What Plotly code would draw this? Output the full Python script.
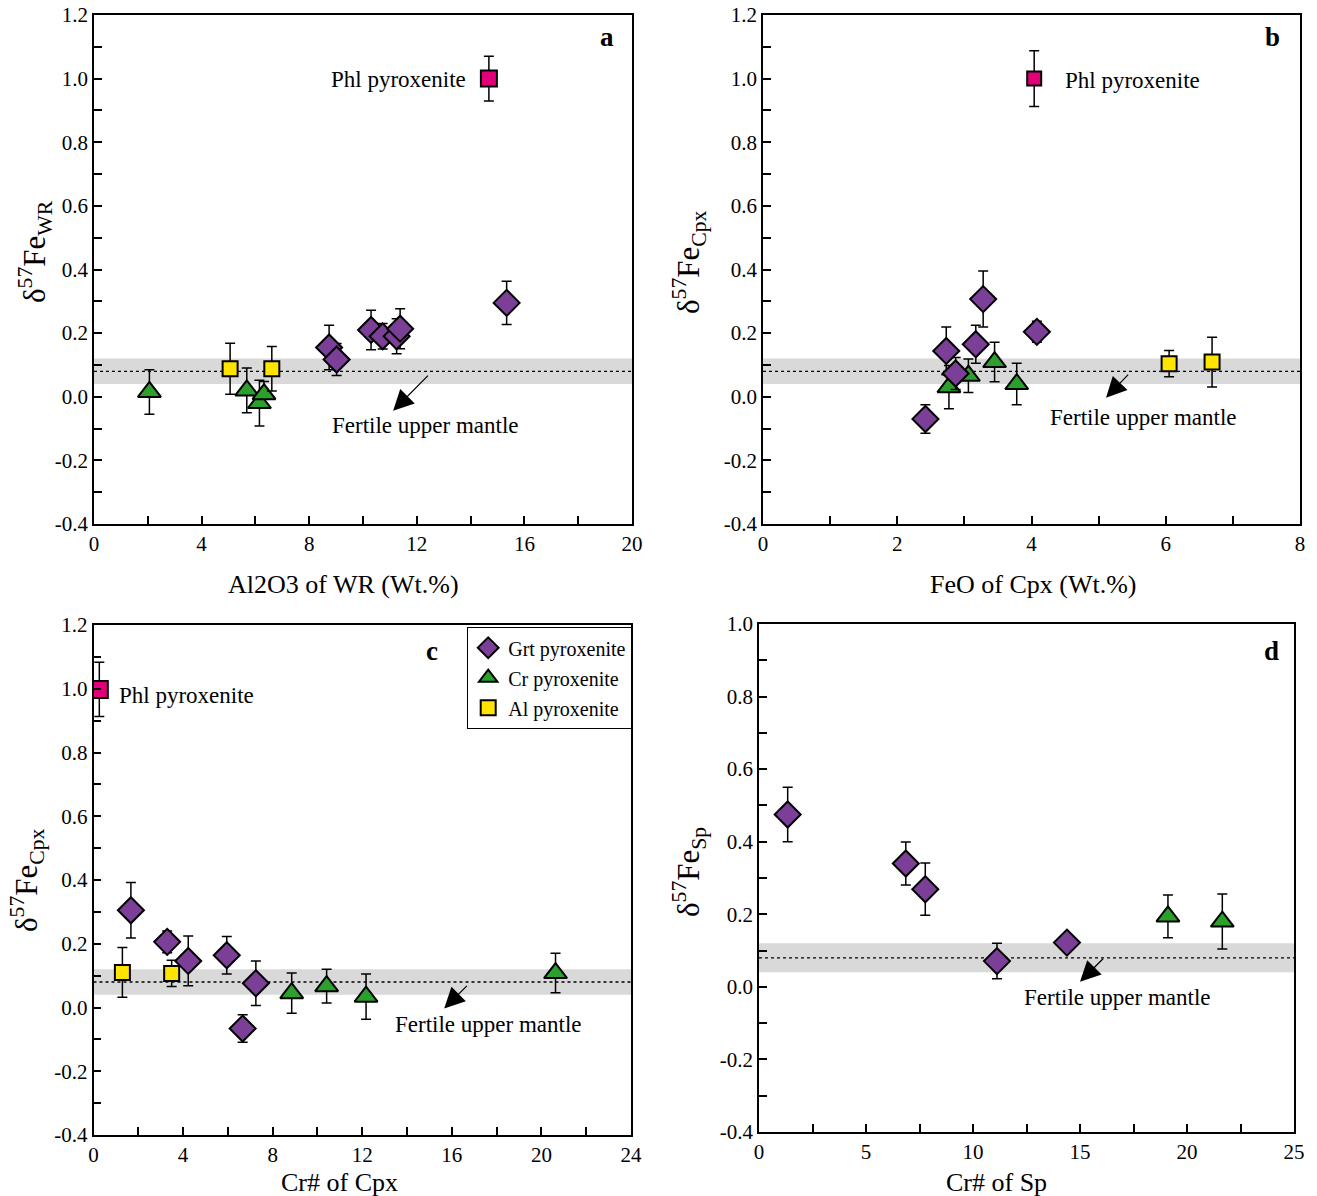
import plotly.graph_objects as go

# ---------------- data ----------------
# Panel a: Al2O3 of WR vs d57Fe WR
a_grt_x = [8.74, 9.02, 10.30, 10.73, 11.25, 11.38, 15.34]
a_grt_y = [0.155, 0.117, 0.210, 0.190, 0.190, 0.214, 0.295]
a_grt_e = [0.070, 0.050, 0.062, 0.040, 0.055, 0.063, 0.068]
a_cr_x = [2.06, 5.68, 6.15, 6.32]
a_cr_y = [0.015, 0.020, -0.020, 0.008]
a_cr_e = [0.070, 0.070, 0.072, 0.040]
a_al_x = [5.06, 6.61]
a_al_y = [0.088, 0.088]
a_al_e = [0.080, 0.070]
a_phl_x = [14.68]
a_phl_y = [1.00]
a_phl_e = [0.070]

# Panel b: FeO of Cpx vs d57Fe Cpx
b_grt_x = [2.42, 2.73, 2.87, 3.17, 3.28, 4.08]
b_grt_y = [-0.070, 0.144, 0.073, 0.165, 0.307, 0.204]
b_grt_e = [0.045, 0.075, 0.050, 0.060, 0.088, 0.033]
b_cr_x = [2.77, 3.06, 3.45, 3.78]
b_cr_y = [0.030, 0.066, 0.109, 0.040]
b_cr_e = [0.068, 0.053, 0.062, 0.065]
b_al_x = [6.05, 6.69]
b_al_y = [0.104, 0.109]
b_al_e = [0.041, 0.078]
b_phl_x = [4.04]
b_phl_y = [1.00]
b_phl_e = [0.088]

# Panel c: Cr# of Cpx vs d57Fe Cpx
c_grt_x = [1.67, 3.29, 4.23, 5.95, 7.25, 6.66]
c_grt_y = [0.305, 0.206, 0.146, 0.164, 0.076, -0.066]
c_grt_e = [0.087, 0.034, 0.078, 0.059, 0.070, 0.043]
c_cr_x = [8.85, 10.41, 12.17, 20.63]
c_cr_y = [0.045, 0.067, 0.034, 0.108]
c_cr_e = [0.063, 0.053, 0.071, 0.062]
c_al_x = [1.29, 3.49]
c_al_y = [0.110, 0.107]
c_al_e = [0.078, 0.041]
c_phl_x = [0.26]
c_phl_y = [0.998]
c_phl_e = [0.085]

# Panel d: Cr# of Sp vs d57Fe Sp
d_grt_x = [1.34, 6.86, 7.77, 11.12, 14.39]
d_grt_y = [0.475, 0.340, 0.269, 0.071, 0.122]
d_grt_e = [0.075, 0.059, 0.072, 0.049, 0.0]
d_cr_x = [19.11, 21.65]
d_cr_y = [0.194, 0.180]
d_cr_e = [0.059, 0.076]

# Fertile upper mantle reference
fum_low, fum_mid, fum_high = 0.04, 0.08, 0.12

# tick labels
y_ticks_1 = [-0.4, -0.2, 0.0, 0.2, 0.4, 0.6, 0.8, 1.0, 1.2]
y_ticks_1_text = ["-0.4", "-0.2", "0.0", "0.2", "0.4", "0.6", "0.8", "1.0", "1.2"]
y_ticks_d = [-0.4, -0.2, 0.0, 0.2, 0.4, 0.6, 0.8, 1.0]
y_ticks_d_text = ["-0.4", "-0.2", "0.0", "0.2", "0.4", "0.6", "0.8", "1.0"]
x_ticks_a = [0, 4, 8, 12, 16, 20]
x_ticks_b = [0, 2, 4, 6, 8]
x_ticks_c = [0, 4, 8, 12, 16, 20, 24]
x_ticks_d = [0, 5, 10, 15, 20, 25]

x_titles = ["Al2O3 of WR (Wt.%)", "FeO of Cpx (Wt.%)", "Cr# of Cpx", "Cr# of Sp"]
y_titles = ["δ<sup>57</sup>Fe<sub>WR</sub>", "δ<sup>57</sup>Fe<sub>Cpx</sub>",
            "δ<sup>57</sup>Fe<sub>Cpx</sub>", "δ<sup>57</sup>Fe<sub>Sp</sub>"]

# ---------------- styling ----------------
FONT = "Liberation Serif"
PURPLE = "#7B3F98"
GREEN = "#2BA02D"
YELLOW = "#FFE400"
MAGENTA = "#E2007A"
W, H = 1317, 1196

fig = go.Figure()


def add(xs, ys, es, xa, ya, symbol, color, size, name, showlegend=False, lw=2, group=None):
    fig.add_trace(go.Scatter(
        x=xs, y=ys, mode="markers", xaxis=xa, yaxis=ya, name=name,
        showlegend=showlegend, legendgroup=group,
        marker=dict(symbol=symbol, color=color, size=size,
                    line=dict(color="black", width=lw)),
        error_y=dict(type="data", array=es, visible=True, color="black",
                     thickness=1.5, width=5),
    ))


# panel a
add(a_cr_x, a_cr_y, a_cr_e, "x", "y", "triangle-up", GREEN, 20, "Cr")
add(a_al_x, a_al_y, a_al_e, "x", "y", "square", YELLOW, 15, "Al")
add(a_grt_x, a_grt_y, a_grt_e, "x", "y", "diamond", PURPLE, 20, "Grt")
add(a_phl_x, a_phl_y, a_phl_e, "x", "y", "square", MAGENTA, 16, "Phl")
# panel b
add(b_cr_x, b_cr_y, b_cr_e, "x2", "y2", "triangle-up", GREEN, 20, "Cr")
add(b_al_x, b_al_y, b_al_e, "x2", "y2", "square", YELLOW, 15, "Al")
add(b_grt_x, b_grt_y, b_grt_e, "x2", "y2", "diamond", PURPLE, 20, "Grt")
add(b_phl_x, b_phl_y, b_phl_e, "x2", "y2", "square", MAGENTA, 14, "Phl")
# panel c (legend)
add(c_grt_x, c_grt_y, c_grt_e, "x3", "y3", "diamond", PURPLE, 20, "Grt pyroxenite", True, group="g1")
add(c_cr_x, c_cr_y, c_cr_e, "x3", "y3", "triangle-up", GREEN, 20, "Cr pyroxenite", True, group="g2")
add(c_al_x, c_al_y, c_al_e, "x3", "y3", "square", YELLOW, 15, "Al pyroxenite", True, group="g3")
add(c_phl_x, c_phl_y, c_phl_e, "x3", "y3", "square", MAGENTA, 17, "Phl")
# panel d
add(d_grt_x, d_grt_y, d_grt_e, "x4", "y4", "diamond", PURPLE, 20, "Grt")
add(d_cr_x, d_cr_y, d_cr_e, "x4", "y4", "triangle-up", GREEN, 20, "Cr")


def px_dom(a, b, total):
    return [a / total, b / total]


def py_dom(top, bottom):
    return [1 - bottom / H, 1 - top / H]


domains = {
    "a": (px_dom(94, 632, W), py_dom(15, 524)),
    "b": (px_dom(763, 1300, W), py_dom(15, 524)),
    "c": (px_dom(93.5, 631, W), py_dom(625, 1135)),
    "d": (px_dom(759, 1294, W), py_dom(624, 1132)),
}

axis_common = dict(showline=True, linecolor="black", linewidth=1.5, mirror=True,
                   ticks="inside", ticklen=8, tickwidth=1.5, tickcolor="black",
                   showgrid=False, zeroline=False, automargin=False,
                   tickfont=dict(family=FONT, size=21, color="black"))

layout = dict(width=W, height=H, autosize=False,
              margin=dict(l=0, r=0, t=0, b=0),
              paper_bgcolor="white", plot_bgcolor="white",
              font=dict(family=FONT, color="black"))

panels = [
    ("", "", "a", [0, 20], x_ticks_a, 2, [-0.4, 1.2], y_ticks_1, y_ticks_1_text),
    ("2", "2", "b", [0, 8], x_ticks_b, 1, [-0.4, 1.2], y_ticks_1, y_ticks_1_text),
    ("3", "3", "c", [0, 24], x_ticks_c, 2, [-0.4, 1.2], y_ticks_1, y_ticks_1_text),
    ("4", "4", "d", [0, 25], x_ticks_d, 2.5, [-0.4, 1.0], y_ticks_d, y_ticks_d_text),
]

for xs, ys, key, xr, xt, xminor, yr, yt, ytt in panels:
    xd, yd = domains[key]
    layout["xaxis" + xs] = dict(axis_common, domain=xd, range=xr, anchor="y" + ys,
                                tickvals=xt, ticktext=[str(v) for v in xt],
                                minor=dict(ticks="inside", ticklen=8, tickwidth=1.5,
                                           tickcolor="black", dtick=xminor, tick0=0))
    layout["yaxis" + ys] = dict(axis_common, domain=yd, range=yr, anchor="x" + xs,
                                tickvals=yt, ticktext=ytt,
                                minor=dict(ticks="inside", ticklen=8, tickwidth=1.5,
                                           tickcolor="black", dtick=0.1, tick0=0))

fig.update_layout(**layout)

# bands and dotted lines
shapes = []
for xs, ys in [("", ""), ("2", "2"), ("3", "3"), ("4", "4")]:
    shapes.append(dict(type="rect", xref="x" + xs + " domain", yref="y" + ys,
                       x0=0, x1=1, y0=fum_low, y1=fum_high,
                       fillcolor="#D9D9D9", line=dict(width=0), layer="below"))
    shapes.append(dict(type="line", xref="x" + xs + " domain", yref="y" + ys,
                       x0=0, x1=1, y0=fum_mid, y1=fum_mid,
                       line=dict(color="black", width=1.3, dash="dot"), layer="below"))
fig.update_layout(shapes=shapes)

ann = []
# axis titles (paper pixel positions)
x_title_pos = [(343, 584), (1033, 584), (339, 1182), (996, 1182)]
for t, (px, py) in zip(x_titles, x_title_pos):
    ann.append(dict(xref="paper", yref="paper", x=px / W, y=1 - py / H, text=t,
                    showarrow=False, xanchor="center", yanchor="middle",
                    font=dict(family=FONT, size=26, color="black")))
y_title_pos = [(35, 252), (689, 262), (27, 880), (689, 872)]
for t, (px, py) in zip(y_titles, y_title_pos):
    ann.append(dict(xref="paper", yref="paper", x=px / W, y=1 - py / H, text=t,
                    showarrow=False, xanchor="center", yanchor="middle", textangle=-90,
                    font=dict(family=FONT, size=31, color="black")))
# arrows (head at x,y ; tail at ax,ay)
arrow_specs = [
    ("x", "y", 11.12, -0.044, 12.49, 0.073),
    ("x2", "y2", 5.11, -0.003, 5.47, 0.076),
    ("x3", "y3", 15.66, -0.003, 16.76, 0.074),
    ("x4", "y4", 15.0, 0.014, 16.17, 0.083),
]
for xr_, yr_, hx, hy, tx, ty in arrow_specs:
    ann.append(dict(xref=xr_, yref=yr_, x=hx, y=hy, axref=xr_, ayref=yr_, ax=tx, ay=ty,
                    showarrow=True, arrowhead=2, arrowsize=3.4, arrowwidth=1.2,
                    arrowcolor="black", text=" ", font=dict(size=2)))
# "Fertile upper mantle" labels
fum_pos = [("x", "y", 12.34, -0.089), ("x2", "y2", 5.67, -0.066),
           ("x3", "y3", 17.63, -0.052), ("x4", "y4", 16.73, -0.028)]
for xr_, yr_, x_, y_ in fum_pos:
    ann.append(dict(xref=xr_, yref=yr_, x=x_, y=y_, text="Fertile upper mantle",
                    showarrow=False, font=dict(family=FONT, size=23, color="black")))
# Phl labels
ann.append(dict(xref="x", yref="y", x=13.9, y=0.998, text="Phl pyroxenite",
                xanchor="right", showarrow=False, font=dict(family=FONT, size=23)))
ann.append(dict(xref="x2", yref="y2", x=4.475, y=0.993, text="Phl pyroxenite",
                xanchor="left", showarrow=False, font=dict(family=FONT, size=23)))
ann.append(dict(xref="x3", yref="y3", x=1.06, y=0.98, text="Phl pyroxenite",
                xanchor="left", showarrow=False, font=dict(family=FONT, size=23)))
# panel letters
letters = [("x", "y", 19.07, 1.13, "a"), ("x2", "y2", 7.59, 1.13, "b"),
           ("x3", "y3", 15.11, 1.118, "c"), ("x4", "y4", 23.93, 0.925, "d")]
for xr_, yr_, x_, y_, t in letters:
    ann.append(dict(xref=xr_, yref=yr_, x=x_, y=y_, text="<b>" + t + "</b>",
                    showarrow=False, font=dict(family=FONT, size=27, color="black")))
fig.update_layout(annotations=ann)

fig.update_layout(legend=dict(x=632 / W, y=1 - 627 / H, xanchor="right", yanchor="top",
                              bordercolor="black", borderwidth=1.2, bgcolor="white",
                              font=dict(family=FONT, size=20, color="black"),
                              tracegroupgap=1, itemwidth=30))

fig.write_html("out.html", config={"displayModeBar": False},
               post_script="document.body.style.margin='0px';"
                           "document.body.style.overflow='hidden';")
